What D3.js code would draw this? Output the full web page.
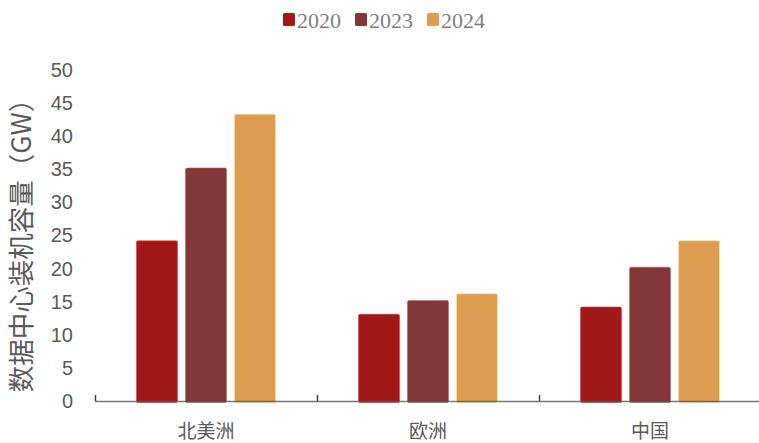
<!DOCTYPE html>
<html>
<head>
<meta charset="utf-8">
<script src="https://cdn.jsdelivr.net/npm/d3@7"></script>
<style>
  html, body { margin: 0; padding: 0; background: #fff; }
  svg { display: block; }
</style>
</head>
<body>
<svg id="chart" width="759" height="443"></svg>
<script>
const categories = ["北美洲", "欧洲", "中国"];
const seriesNames = ["2020", "2023", "2024"];
const values2020 = [24.2, 13.1, 14.2];
const values2023 = [35.2, 15.2, 20.2];
const values2024 = [43.3, 16.2, 24.2];
const yTicks = [0, 5, 10, 15, 20, 25, 30, 35, 40, 45, 50];
const colors = ["#A01818", "#823838", "#DE9C53"];
const yTitle = "数据中心装机容量（GW）";

const seriesValues = [values2020, values2023, values2024];
const data = categories.map((c, i) => ({
  cat: c,
  vals: seriesNames.map((s, j) => ({ s, v: seriesValues[j][i], color: colors[j] }))
}));

const svg = d3.select("#chart");

const x0 = d3.scaleBand().domain(categories).range([95, 761]).padding(0);
const groupW = 139;
const x1 = d3.scaleBand().domain(seriesNames)
  .range([(x0.bandwidth() - groupW) / 2, (x0.bandwidth() + groupW) / 2])
  .paddingInner(8 / 49).paddingOuter(0);
const y = d3.scaleLinear().domain([0, 50]).range([401, 70]);

// bars
const groups = svg.append("g").selectAll("g").data(data).join("g")
  .attr("transform", d => `translate(${x0(d.cat)},0)`);
groups.selectAll("rect").data(d => d.vals).join("rect")
  .attr("x", d => x1(d.s))
  .attr("y", d => y(d.v))
  .attr("width", x1.bandwidth())
  .attr("height", d => y(0) - y(d.v) + 1.5)
  .attr("rx", 1.5)
  .attr("fill", d => d.color)
  .attr("stroke", d => d3.color(d.color).brighter(1.2))
  .attr("stroke-opacity", 0.5)
  .attr("stroke-width", 1);

// x axis line
svg.append("line")
  .attr("x1", 95).attr("x2", 761)
  .attr("y1", 401.5).attr("y2", 401.5)
  .attr("stroke", "#555").attr("stroke-opacity", 0.8).attr("stroke-width", 1.5);
// boundary ticks
const boundaries = categories.map(c => x0(c));
svg.append("g").selectAll("line").data(boundaries).join("line")
  .attr("x1", d => d + 0.5).attr("x2", d => d + 0.5)
  .attr("y1", 395).attr("y2", 401)
  .attr("stroke", "#444").attr("stroke-width", 1.5);

// category labels
svg.append("g").selectAll("text").data(categories).join("text")
  .attr("x", d => x0(d) + x0.bandwidth() / 2)
  .attr("y", 437.5)
  .attr("text-anchor", "middle")
  .attr("font-family", "'Noto Sans CJK SC', sans-serif")
  .attr("font-size", 19)
  .attr("fill", "#595959")
  .text(d => d);

// y axis tick labels
const yAxis = d3.axisLeft(y).tickValues(yTicks).tickSize(0).tickPadding(0);
const yg = svg.append("g").attr("transform", "translate(73,0)").call(yAxis);
yg.select(".domain").remove();
yg.selectAll("text")
  .attr("font-family", "'Liberation Sans', Arial, sans-serif")
  .attr("font-size", 20)
  .attr("fill", "#595959");

// y title
svg.append("text")
  .attr("transform", "translate(31,239) rotate(-90)")
  .attr("text-anchor", "middle")
  .attr("font-family", "'Noto Sans CJK SC', sans-serif")
  .attr("font-size", 26.5)
  .attr("fill", "#595959")
  .text(yTitle);

// legend
const legendX = [283, 355, 427];
const leg = svg.append("g").selectAll("g").data(seriesNames).join("g")
  .attr("transform", (d, i) => `translate(${legendX[i]},0)`);
leg.append("rect")
  .attr("x", 0).attr("y", 13).attr("width", 12).attr("height", 13)
  .attr("rx", 1.5)
  .attr("fill", (d, i) => colors[i]);
leg.append("text")
  .attr("x", 14).attr("y", 28)
  .attr("font-family", "'Liberation Serif', 'Times New Roman', serif")
  .attr("font-size", 22)
  .attr("fill", "#7F7F7F")
  .text(d => d);
</script>
</body>
</html>
